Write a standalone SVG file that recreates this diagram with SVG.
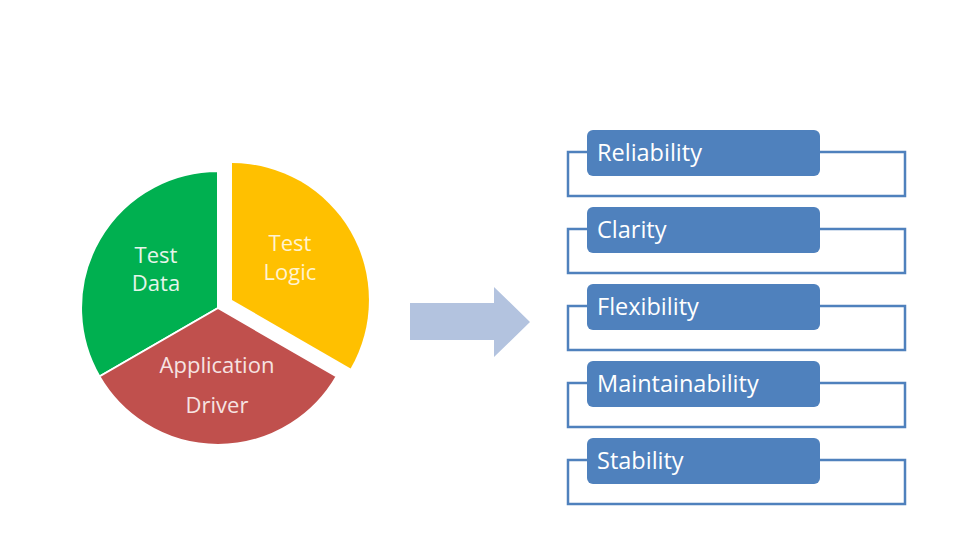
<svg xmlns="http://www.w3.org/2000/svg" width="970" height="545" viewBox="0 0 970 545">
<style>
.lbl{font-family:"Open Sans","Liberation Sans",sans-serif;font-size:23.5px;fill:#ffffff}
.pie{font-family:"Open Sans","Liberation Sans",sans-serif;font-size:22px;text-anchor:middle}
.box{fill:#4f81bd}
.frame{fill:none;stroke:#4f81bd;stroke-width:2.5}
</style>
<rect width="970" height="545" fill="#ffffff"/>
<g id="pie">
<g id="test-data">
<path d="M218,308 L218,171 A137,137 0 0 0 99.4,376.5 Z" fill="#00b050" stroke="#ffffff" stroke-width="2"/>
<text class="pie" x="156" y="263" fill="#e6f5ea">Test</text>
<text class="pie" x="156" y="291" fill="#e6f5ea">Data</text>
</g>
<g id="application-driver">
<path d="M218,308 L99.4,376.5 A137,137 0 0 0 336.6,376.5 Z" fill="#c0504d" stroke="#ffffff" stroke-width="2"/>
<text class="pie" x="217" y="373" fill="#f6e3e2">Application</text>
<text class="pie" x="217" y="413" fill="#f6e3e2">Driver</text>
</g>
<g id="test-logic">
<path d="M232,300 L232,163 A137,137 0 0 1 350.6,368.5 Z" fill="#ffc000"/>
<text class="pie" x="290" y="251" fill="#fff3d0">Test</text>
<text class="pie" x="290" y="280" fill="#fff3d0">Logic</text>
</g>
</g>
<g id="connectors">
<path id="arrow" d="M410,303 L494,303 L494,287 L530,322 L494,357 L494,340 L410,340 Z" fill="#b3c3df"/>
</g>
<g id="reliability">
<path class="frame" d="M587,152 H568 V196 H905 V152 H820"/>
<rect class="box" x="587" y="130" width="233" height="46" rx="6"/>
<text class="lbl" x="597" y="161">Reliability</text>
</g>
<g id="clarity">
<path class="frame" d="M587,229 H568 V273 H905 V229 H820"/>
<rect class="box" x="587" y="207" width="233" height="46" rx="6"/>
<text class="lbl" x="597" y="238">Clarity</text>
</g>
<g id="flexibility">
<path class="frame" d="M587,306 H568 V350 H905 V306 H820"/>
<rect class="box" x="587" y="284" width="233" height="46" rx="6"/>
<text class="lbl" x="597" y="315">Flexibility</text>
</g>
<g id="maintainability">
<path class="frame" d="M587,383 H568 V427 H905 V383 H820"/>
<rect class="box" x="587" y="361" width="233" height="46" rx="6"/>
<text class="lbl" x="597" y="392">Maintainability</text>
</g>
<g id="stability">
<path class="frame" d="M587,460 H568 V504 H905 V460 H820"/>
<rect class="box" x="587" y="438" width="233" height="46" rx="6"/>
<text class="lbl" x="597" y="469">Stability</text>
</g>
</svg>
